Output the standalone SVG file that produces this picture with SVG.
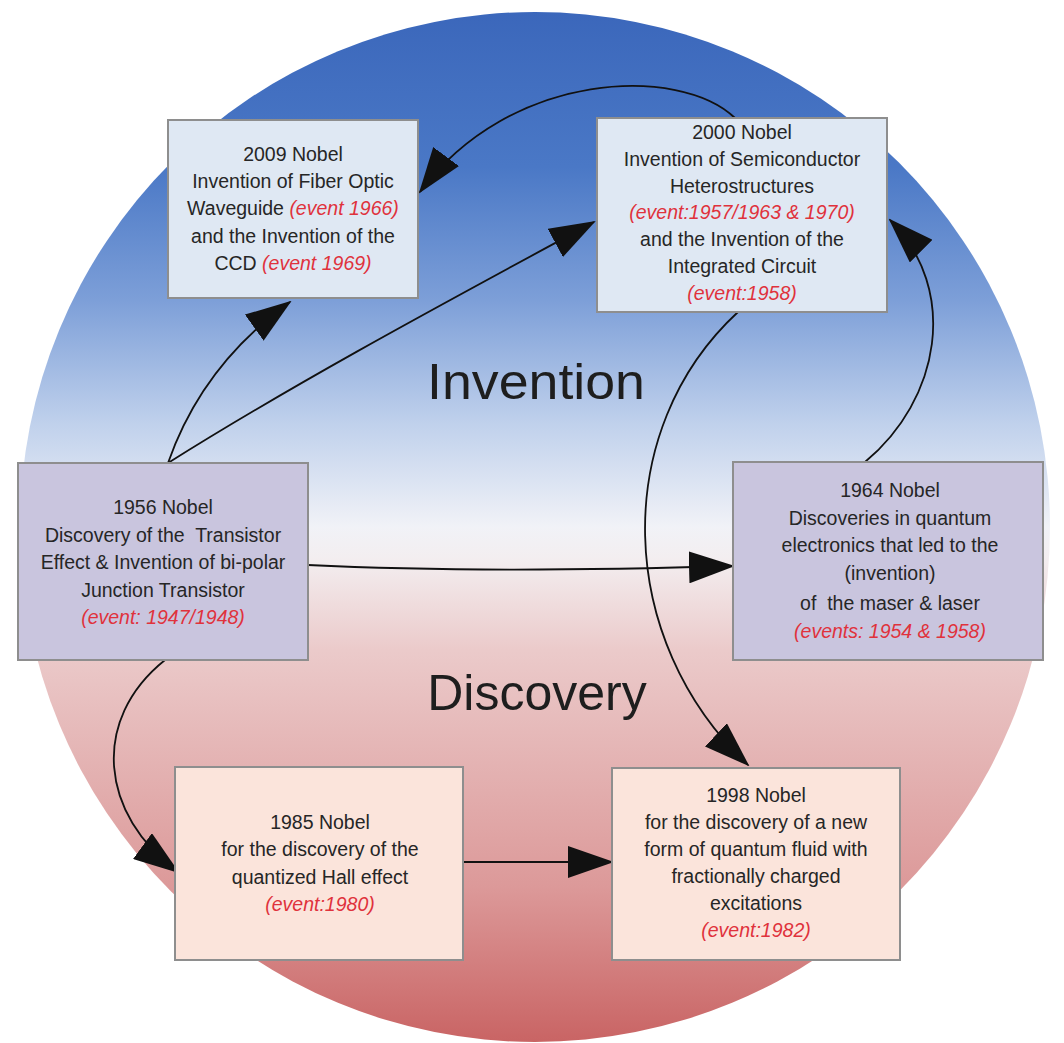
<svg xmlns="http://www.w3.org/2000/svg" width="1064" height="1043" viewBox="0 0 1064 1043">
<defs>
<linearGradient id="bg" x1="0" y1="0" x2="0" y2="1">
<stop offset="0" stop-color="#3b67bb"/>
<stop offset="0.15" stop-color="#4a78c6"/>
<stop offset="0.28" stop-color="#7d9fd8"/>
<stop offset="0.40" stop-color="#c0d1ec"/>
<stop offset="0.50" stop-color="#f1f2f7"/>
<stop offset="0.53" stop-color="#f3eef0"/>
<stop offset="0.62" stop-color="#ebcaca"/>
<stop offset="0.85" stop-color="#dc9999"/>
<stop offset="1" stop-color="#c96464"/>
</linearGradient>
<marker id="ah" markerUnits="userSpaceOnUse" markerWidth="46" markerHeight="32" refX="44" refY="16" orient="auto">
<path d="M0,0 L46,16 L0,32 z" fill="#111"/>
</marker>
</defs>
<style>
.box{stroke:#8e8e8e;stroke-width:2}
.inv{fill:#dfe8f3}
.mid{fill:#c9c5de}
.dis{fill:#fbe4db}
.t{font-family:"Liberation Sans",Arial,sans-serif;font-size:19.5px;fill:#262626;text-anchor:middle}
.r{fill:#e0323c;font-style:italic}
.big{font-family:"Liberation Sans",Arial,sans-serif;font-size:50px;fill:#1e1e1e;text-anchor:middle}
.c{fill:none;stroke:#111;stroke-width:1.8;marker-end:url(#ah)}
</style>
<rect width="1064" height="1043" fill="#ffffff"/>
<circle cx="535" cy="527" r="515" fill="url(#bg)"/>
<text class="big" x="536" y="399" textLength="218" lengthAdjust="spacingAndGlyphs">Invention</text>
<text class="big" x="537" y="710">Discovery</text>

<g id="connectors">
<path class="c" d="M735,118 C680,65 510,70 420,192"/>
<path class="c" d="M168,463 C190,400 230,345 290,302"/>
<path class="c" d="M168,463 C300,380 450,300 594,222"/>
<path class="c" d="M308,565 C450,572 600,570 733,566"/>
<path class="c" d="M865,462 C940,400 960,290 890,220"/>
<path class="c" d="M738,312 C610,430 615,640 748,765"/>
<path class="c" d="M165,660 C90,720 100,815 178,872"/>
<path class="c" d="M463,862 L612,862"/>
</g>

<g id="n2009">
<rect class="box inv" x="168" y="120" width="250" height="178"/>
<text class="t" x="293" y="161">2009 Nobel</text>
<text class="t" x="293" y="188">Invention of Fiber Optic</text>
<text class="t" x="293" y="215">Waveguide <tspan class="r">(event 1966)</tspan></text>
<text class="t" x="293" y="243">and the Invention of the</text>
<text class="t" x="293" y="270">CCD <tspan class="r">(event 1969)</tspan></text>
</g>

<g id="n2000">
<rect class="box inv" x="597" y="118" width="290" height="194"/>
<text class="t" x="742" y="139">2000 Nobel</text>
<text class="t" x="742" y="166">Invention of Semiconductor</text>
<text class="t" x="742" y="193">Heterostructures</text>
<text class="t r" x="742" y="219">(event:1957/1963 &amp; 1970)</text>
<text class="t" x="742" y="246">and the Invention of the</text>
<text class="t" x="742" y="273">Integrated Circuit</text>
<text class="t r" x="742" y="300">(event:1958)</text>
</g>

<g id="n1956">
<rect class="box mid" x="18" y="463" width="290" height="197"/>
<text class="t" x="163" y="514">1956 Nobel</text>
<text class="t" x="163" y="542" xml:space="preserve">Discovery of the  Transistor</text>
<text class="t" x="163" y="569">Effect &amp; Invention of bi-polar</text>
<text class="t" x="163" y="597">Junction Transistor</text>
<text class="t r" x="163" y="624">(event: 1947/1948)</text>
</g>

<g id="n1964">
<rect class="box mid" x="733" y="462" width="310" height="198"/>
<text class="t" x="890" y="497">1964 Nobel</text>
<text class="t" x="890" y="525">Discoveries in quantum</text>
<text class="t" x="890" y="552">electronics that led to the</text>
<text class="t" x="890" y="580">(invention)</text>
<text class="t" x="890" y="610" xml:space="preserve">of  the maser &amp; laser</text>
<text class="t r" x="890" y="638">(events: 1954 &amp; 1958)</text>
</g>

<g id="n1985">
<rect class="box dis" x="175" y="767" width="288" height="193"/>
<text class="t" x="320" y="829">1985 Nobel</text>
<text class="t" x="320" y="856">for the discovery of the</text>
<text class="t" x="320" y="884">quantized Hall effect</text>
<text class="t r" x="320" y="911">(event:1980)</text>
</g>

<g id="n1998">
<rect class="box dis" x="612" y="768" width="288" height="192"/>
<text class="t" x="756" y="802">1998 Nobel</text>
<text class="t" x="756" y="829">for the discovery of a new</text>
<text class="t" x="756" y="856">form of quantum fluid with</text>
<text class="t" x="756" y="883">fractionally charged</text>
<text class="t" x="756" y="910">excitations</text>
<text class="t r" x="756" y="937">(event:1982)</text>
</g>
</svg>
